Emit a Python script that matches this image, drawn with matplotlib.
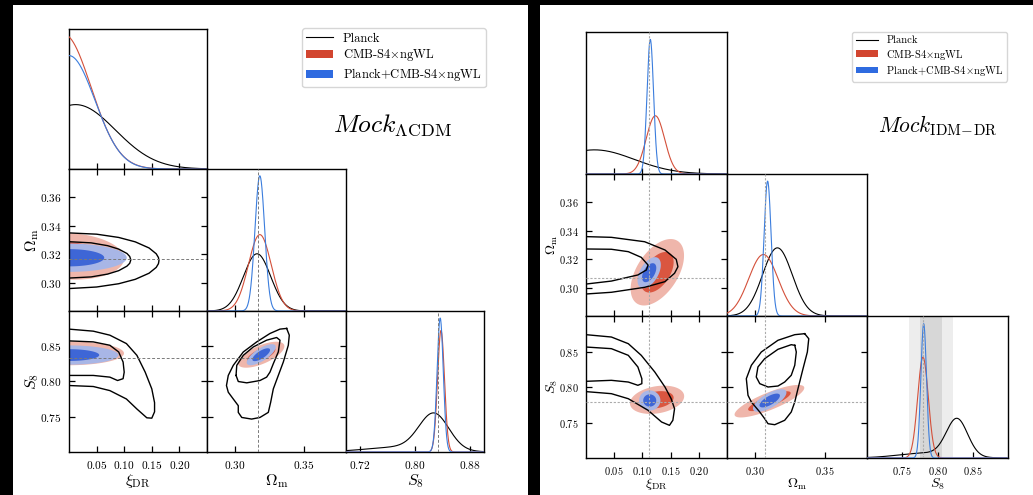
import numpy as np
import matplotlib
matplotlib.use("Agg")
import matplotlib.pyplot as plt
from matplotlib.patches import Rectangle, Patch
from matplotlib.lines import Line2D

plt.rcParams["font.family"] = ["cmr10", "DejaVu Serif"]
plt.rcParams["mathtext.fontset"] = "cm"
plt.rcParams["axes.unicode_minus"] = False

# ---------------------------------------------------------------- data
PARAMS = ["xi", "om", "s8"]
AXIS_LABELS = [r"$\xi_{\rm DR}$", r"$\Omega_{\rm m}$", r"$S_8$"]
LEGEND_LABELS = ["Planck", r"CMB-S4$\times$ngWL", r"Planck+CMB-S4$\times$ngWL"]
TITLES = [r"$Mock_{\Lambda\mathrm{CDM}}$", r"$Mock_{\mathrm{IDM\!-\!DR}}$"]

RANGES = {"xi": (0.0, 0.25), "om": (0.28, 0.38), "s8": (0.70, 0.90)}
XTICKS_LCDM = {"xi": [0.05, 0.10, 0.15, 0.20], "om": [0.30, 0.35], "s8": [0.72, 0.80, 0.88]}
XTICKS_IDM = {"xi": [0.05, 0.10, 0.15, 0.20], "om": [0.30, 0.35], "s8": [0.75, 0.80, 0.85]}
YTICKS = {"om": [0.30, 0.32, 0.34, 0.36], "s8": [0.75, 0.80, 0.85]}

# fiducial values of the two mocks
FID_LCDM = {"om": 0.3166, "s8": 0.834}
FID_IDM = {"xi": 0.112, "om": 0.307, "s8": 0.779}
# external S8 constraint shown as bands: centre, lower and upper 1-sigma
S8_BAND = (0.790, 0.015, 0.016)

# 1D marginals: Gaussian components (centre, width, peak height)
LCDM_1D_PLANCK = {"xi": [(0.012, 0.072, 0.46)],
                  "om": [(0.316, 0.0098, 0.403)],
                  "s8": [(0.8275, 0.0215, 0.255), (0.780, 0.050, 0.035)]}
LCDM_1D_S4 = {"xi": [(-0.010, 0.050, 0.964)],
              "om": [(0.318, 0.0082, 0.538)],
              "s8": [(0.8377, 0.0050, 0.862)]}
LCDM_1D_JOINT = {"xi": [(0.000, 0.047, 0.810)],
                 "om": [(0.318, 0.0035, 0.952)],
                 "s8": [(0.8365, 0.0045, 0.950)]}

IDM_1D_PLANCK = {"xi": [(0.015, 0.0705, 0.170)],
                 "om": [(0.316, 0.0106, 0.480)],
                 "s8": [(0.8277, 0.0150, 0.260), (0.785, 0.040, 0.035)]}
IDM_1D_S4 = {"xi": [(0.123, 0.0163, 0.410)],
             "om": [(0.306, 0.0105, 0.433)],
             "s8": [(0.7794, 0.0075, 0.710)]}
IDM_1D_JOINT = {"xi": [(0.114, 0.0058, 0.948)],
                "om": [(0.309, 0.0025, 0.950)],
                "s8": [(0.7804, 0.0040, 0.946)]}

# 2D posteriors: (x centre, y centre, x width, y width, correlation)
LCDM_2D_S4 = {("xi", "om"): (0.000, 0.3185, 0.040, 0.0066, -0.10),
              ("xi", "s8"): (0.000, 0.8400, 0.040, 0.0068, 0.00),
              ("om", "s8"): (0.319, 0.8380, 0.0067, 0.0074, 0.65)}
LCDM_2D_JOINT = {("xi", "om"): (0.000, 0.3175, 0.042, 0.0040, 0.00),
                 ("xi", "s8"): (0.000, 0.8375, 0.036, 0.0055, 0.00),
                 ("om", "s8"): (0.319, 0.8380, 0.0042, 0.0060, 0.73)}
IDM_2D_S4 = {("xi", "om"): (0.1265, 0.3108, 0.0190, 0.0094, 0.50),
             ("xi", "s8"): (0.1260, 0.7820, 0.0193, 0.0080, 0.25),
             ("om", "s8"): (0.3103, 0.7800, 0.0100, 0.0092, 0.82)}
IDM_2D_JOINT = {("xi", "om"): (0.1120, 0.3105, 0.0083, 0.0044, 0.50),
                ("xi", "s8"): (0.1130, 0.7810, 0.0076, 0.0057, 0.00),
                ("om", "s8"): (0.3105, 0.7810, 0.0048, 0.0064, 0.70)}

# Planck 68% / 95% contour outlines (x, y)
LCDM_PLANCK_XI_OM_95 = [(0.0, 0.3350), (0.05, 0.3341), (0.09, 0.3318), (0.12, 0.3287), (0.145, 0.3244),
                        (0.158, 0.3203), (0.162, 0.3177), (0.163, 0.3155), (0.162, 0.3133), (0.158, 0.3107),
                        (0.145, 0.3066), (0.12, 0.3023), (0.09, 0.2992), (0.05, 0.2969), (0.0, 0.2958)]
LCDM_PLANCK_XI_OM_68 = [(0.0, 0.3288), (0.04, 0.3280), (0.07, 0.3260), (0.09, 0.3236), (0.105, 0.3205),
                        (0.110, 0.3184), (0.112, 0.3160), (0.110, 0.3136), (0.105, 0.3116), (0.09, 0.3084),
                        (0.07, 0.3060), (0.04, 0.3040), (0.0, 0.3032)]
LCDM_PLANCK_XI_S8_95 = [(0.0, 0.8743), (0.044, 0.8714), (0.074, 0.8657), (0.104, 0.8538), (0.123, 0.8371),
                        (0.138, 0.8133), (0.150, 0.7895), (0.155, 0.7700), (0.155, 0.7570), (0.150, 0.7480),
                        (0.141, 0.7485), (0.123, 0.7610), (0.104, 0.7752), (0.074, 0.7871), (0.044, 0.7929),
                        (0.0, 0.7943)]
LCDM_PLANCK_XI_S8_68 = [(0.0, 0.8576), (0.044, 0.8562), (0.074, 0.8514), (0.090, 0.8419), (0.098, 0.8276),
                        (0.100, 0.8133), (0.098, 0.8040), (0.088, 0.8014), (0.074, 0.8062), (0.044, 0.8086),
                        (0.0, 0.8086)]
LCDM_PLANCK_OM_S8_95 = [(0.3373, 0.8753), (0.3392, 0.8657), (0.3385, 0.8514), (0.3349, 0.8276), (0.3313, 0.8086),
                        (0.3277, 0.7895), (0.3258, 0.7705), (0.3241, 0.7562), (0.3181, 0.7490), (0.3121, 0.7467),
                        (0.3050, 0.7490), (0.3025, 0.7562), (0.3025, 0.7657), (0.2989, 0.7752), (0.2953, 0.7848),
                        (0.2940, 0.7943), (0.2953, 0.8086), (0.2989, 0.8229), (0.3061, 0.8419), (0.3158, 0.8562),
                        (0.3253, 0.8681), (0.3325, 0.8743), (0.3373, 0.8753)]
LCDM_PLANCK_OM_S8_68 = [(0.3009, 0.8086), (0.3014, 0.8229), (0.3061, 0.8371), (0.3133, 0.8490), (0.3229, 0.8586),
                        (0.3301, 0.8624), (0.3325, 0.8586), (0.3313, 0.8419), (0.3277, 0.8252), (0.3253, 0.8133),
                        (0.3229, 0.8062), (0.3181, 0.8014), (0.3086, 0.7981), (0.3025, 0.8000), (0.3009, 0.8086)]

IDM_PLANCK_XI_OM_95 = [(0.0, 0.3359), (0.045, 0.3354), (0.104, 0.3323), (0.140, 0.3265), (0.160, 0.3199),
                       (0.163, 0.3147), (0.157, 0.3101), (0.140, 0.3042), (0.104, 0.3002), (0.045, 0.2967),
                       (0.0, 0.2955)]
IDM_PLANCK_XI_OM_68 = [(0.0, 0.3272), (0.045, 0.3270), (0.075, 0.3253), (0.098, 0.3213), (0.110, 0.3159),
                       (0.107, 0.3124), (0.092, 0.3089), (0.045, 0.3046), (0.0, 0.3025)]
IDM_PLANCK_XI_S8_95 = [(0.0, 0.8737), (0.045, 0.8704), (0.075, 0.8610), (0.098, 0.8446), (0.122, 0.8211),
                       (0.140, 0.8000), (0.151, 0.7835), (0.157, 0.7694), (0.154, 0.7531), (0.148, 0.7460),
                       (0.134, 0.7507), (0.110, 0.7672), (0.075, 0.7835), (0.045, 0.7906), (0.0, 0.7935)]
IDM_PLANCK_XI_S8_68 = [(0.0, 0.8563), (0.045, 0.8540), (0.075, 0.8446), (0.092, 0.8282), (0.099, 0.8117),
                       (0.099, 0.8047), (0.092, 0.8024), (0.075, 0.8070), (0.045, 0.8094), (0.0, 0.8080)]
IDM_PLANCK_OM_S8_95 = [(0.3355, 0.8751), (0.3384, 0.8680), (0.3374, 0.8493), (0.3343, 0.8258), (0.3307, 0.7976),
                       (0.3284, 0.7789), (0.3259, 0.7648), (0.3212, 0.7531), (0.3141, 0.7469), (0.3093, 0.7483),
                       (0.3069, 0.7554), (0.3034, 0.7648), (0.2974, 0.7789), (0.2950, 0.7883), (0.2938, 0.8117),
                       (0.2974, 0.8306), (0.3045, 0.8493), (0.3164, 0.8658), (0.3284, 0.8737), (0.3355, 0.8751)]
IDM_PLANCK_OM_S8_68 = [(0.3284, 0.8587), (0.3295, 0.8493), (0.3284, 0.8306), (0.3259, 0.8165), (0.3212, 0.8070),
                       (0.3164, 0.8014), (0.3093, 0.8000), (0.3034, 0.8047), (0.3009, 0.8141), (0.3021, 0.8282),
                       (0.3069, 0.8399), (0.3164, 0.8531), (0.3259, 0.8596), (0.3284, 0.8587)]

LCDM_OUTLINES = {("xi", "om"): (LCDM_PLANCK_XI_OM_95, LCDM_PLANCK_XI_OM_68),
                 ("xi", "s8"): (LCDM_PLANCK_XI_S8_95, LCDM_PLANCK_XI_S8_68),
                 ("om", "s8"): (LCDM_PLANCK_OM_S8_95, LCDM_PLANCK_OM_S8_68)}
IDM_OUTLINES = {("xi", "om"): (IDM_PLANCK_XI_OM_95, IDM_PLANCK_XI_OM_68),
                ("xi", "s8"): (IDM_PLANCK_XI_S8_95, IDM_PLANCK_XI_S8_68),
                ("om", "s8"): (IDM_PLANCK_OM_S8_95, IDM_PLANCK_OM_S8_68)}

# ---------------------------------------------------------------- style
RED_LINE, BLUE_LINE = "#D4503A", "#3B7DDD"
RED_LIGHT, RED_DARK = "#EFB6AB", "#DA5640"
BLUE_LIGHT, BLUE_DARK = "#A8B6E6", "#3E66D6"
K68, K95 = 1.52, 2.49

W, H = 1033, 495
fig = plt.figure(figsize=(W / 100, H / 100), dpi=100, facecolor="black")


def fbox(x0, y0, x1, y1):
    return [x0 / W, 1 - y1 / H, (x1 - x0) / W, (y1 - y0) / H]


for x0, x1 in ((13, 528), (540, 1033)):
    fig.add_artist(Rectangle((x0 / W, 0), (x1 - x0) / W, (H - 5) / H,
                             transform=fig.transFigure, facecolor="white",
                             edgecolor="none", zorder=-10))


def marginal(ax, comps, color, lw):
    lo, hi = ax.get_xlim()
    x = np.linspace(lo, hi, 600)
    y = np.zeros_like(x)
    for c, s, h in comps:
        y += h * np.exp(-0.5 * ((x - c) / s) ** 2)
    ax.plot(x, y, color=color, lw=lw, zorder=3)


def filled(ax, g, light, dark):
    cx, cy, sx, sy, rho = g
    t = np.linspace(0, 2 * np.pi, 240)
    for k, col in ((K95, light), (K68, dark)):
        x = cx + k * sx * np.cos(t)
        y = cy + k * sy * (rho * np.cos(t) + np.sqrt(1 - rho ** 2) * np.sin(t))
        ax.fill(x, y, color=col, lw=0, zorder=2)


def outline(ax, pts):
    p = np.array(pts)
    ax.plot(p[:, 0], p[:, 1], color="black", lw=1.0, zorder=4)


def triangle(cols, rows, xticks, fid, d1, s4, joint, outlines, fstyle, tick_fs,
             lab_fs, lab_y, ylab_x, band=None):
    for i in range(3):
        for j in range(i + 1):
            ax = fig.add_axes(fbox(cols[j], rows[i], cols[j + 1], rows[i + 1]))
            px = PARAMS[j]
            ax.set_xlim(RANGES[px])
            ax.set_xticks(xticks[px])
            ax.xaxis.set_major_formatter(plt.FuncFormatter(lambda v, p: f"${v:.2f}$"))
            for s in ax.spines.values():
                s.set_linewidth(1.0)
            if i == j:
                ax.set_ylim(0, 1)
                ax.set_yticks([])
                ax.tick_params(axis="x", direction="in", length=4, width=0.9,
                               labelsize=tick_fs, pad=5, labelbottom=(i == 2))
                if band is not None and px == "s8":
                    c, lo, hi = band
                    ax.axvspan(c - 2 * lo, c + 2 * hi, color="#EDEDED", lw=0, zorder=0)
                    ax.axvspan(c - lo, c + hi, color="#D7D7D7", lw=0, zorder=0)
                marginal(ax, d1[0][px], "black", 0.8)
                marginal(ax, d1[1][px], RED_LINE, 0.8)
                marginal(ax, d1[2][px], BLUE_LINE, 0.8)
                if px in fid:
                    ax.axvline(fid[px], zorder=5, **fstyle)
            else:
                py = PARAMS[i]
                ax.set_ylim(RANGES[py])
                ax.set_yticks(YTICKS[py])
                ax.yaxis.set_major_formatter(plt.FuncFormatter(lambda v, p: f"${v:.2f}$"))
                ax.tick_params(direction="in", top=True, right=True, length=4, width=0.9,
                               labelsize=tick_fs, pad=5, labelbottom=(i == 2),
                               labelleft=(j == 0))
                filled(ax, s4[(px, py)], RED_LIGHT, RED_DARK)
                filled(ax, joint[(px, py)], BLUE_LIGHT, BLUE_DARK)
                for pts in outlines[(px, py)]:
                    outline(ax, pts)
                if px in fid:
                    ax.axvline(fid[px], zorder=5, **fstyle)
                if py in fid:
                    ax.axhline(fid[py], zorder=5, **fstyle)
    for j in range(3):
        fig.text((cols[j] + cols[j + 1]) / 2 / W, 1 - lab_y / H, AXIS_LABELS[j],
                 ha="center", va="center", fontsize=lab_fs)
    for i in (1, 2):
        fig.text(ylab_x / W, 1 - (rows[i] + rows[i + 1]) / 2 / H, AXIS_LABELS[i],
                 ha="center", va="center", rotation=90, fontsize=lab_fs)


triangle([69, 207, 346, 484], [29, 169, 311, 452], XTICKS_LCDM, FID_LCDM,
         (LCDM_1D_PLANCK, LCDM_1D_S4, LCDM_1D_JOINT), LCDM_2D_S4, LCDM_2D_JOINT,
         LCDM_OUTLINES, dict(color="#7a7a7a", lw=0.7, ls=(0, (3, 2))),
         8.2, 11.5, 481, 32)
triangle([586, 727, 867, 1008], [32, 174, 316, 458], XTICKS_IDM, FID_IDM,
         (IDM_1D_PLANCK, IDM_1D_S4, IDM_1D_JOINT), IDM_2D_S4, IDM_2D_JOINT,
         IDM_OUTLINES, dict(color="#ababab", lw=0.8, ls=(0, (2, 1.5))),
         7.4, 10, 484, 552, band=S8_BAND)

handles = [Line2D([], [], color="black", lw=0.8),
           Patch(facecolor="#D2452F", edgecolor="none"),
           Patch(facecolor="#2F6BE0", edgecolor="none")]
legend_style = dict(loc="upper left", bbox_transform=fig.transFigure, borderaxespad=0,
                    labelspacing=0.22, borderpad=0.35, handleheight=0.6, handlelength=2.1)
fig.legend(handles, LEGEND_LABELS, bbox_to_anchor=(302 / W, 1 - 28 / H), fontsize=9,
           **legend_style)
fig.legend(handles, LEGEND_LABELS, bbox_to_anchor=(852 / W, 1 - 32 / H), fontsize=7.6,
           **legend_style)

fig.text(333 / W, 1 - 132 / H, TITLES[0], ha="left", va="baseline", fontsize=18.5)
fig.text(878 / W, 1 - 132 / H, TITLES[1], ha="left", va="baseline", fontsize=15.5)

fig.savefig("out.png", dpi=100, facecolor="black")
